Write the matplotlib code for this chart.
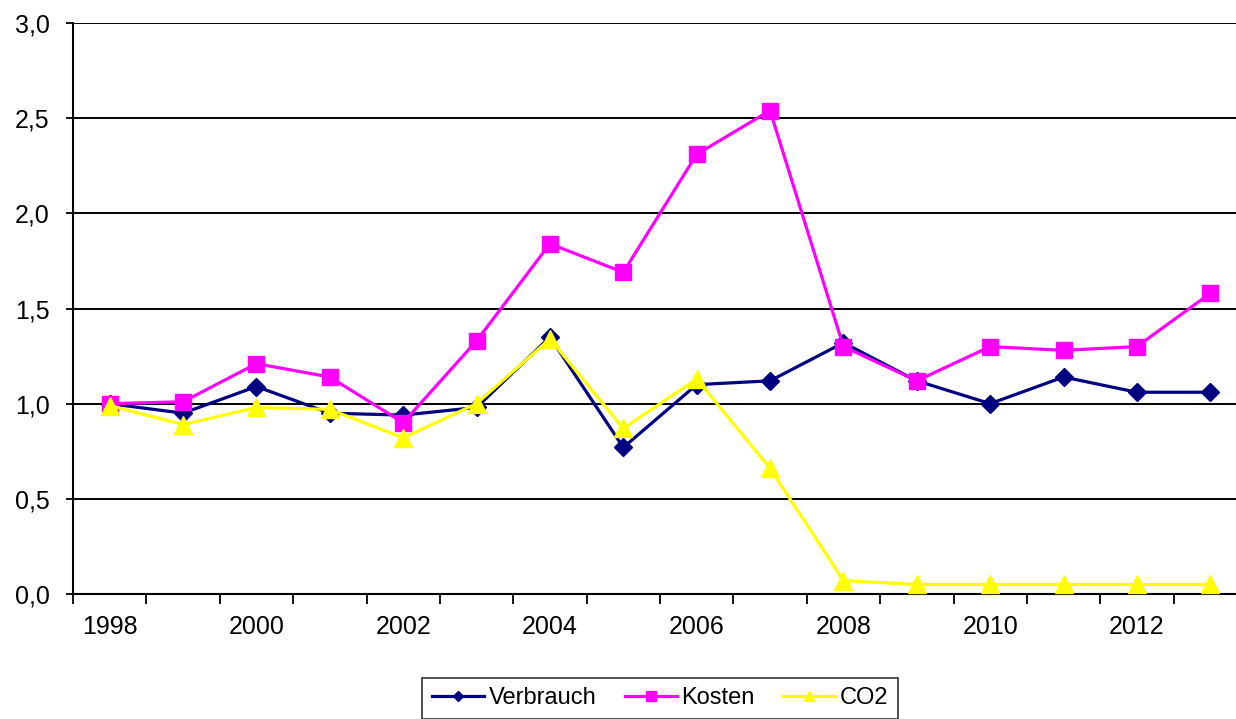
import numpy as np
import matplotlib
matplotlib.use("Agg")
import matplotlib.pyplot as plt
from matplotlib.ticker import FixedLocator, FuncFormatter

plt.rcParams['font.family'] = ['Liberation Sans', 'DejaVu Sans']

# data
years = [1998, 1999, 2000, 2001, 2002, 2003, 2004, 2005,
         2006, 2007, 2008, 2009, 2010, 2011, 2012, 2013]
verbrauch = [1.00, 0.95, 1.09, 0.95, 0.94, 0.98, 1.35, 0.77,
             1.10, 1.12, 1.32, 1.12, 1.00, 1.14, 1.06, 1.06]
kosten = [1.00, 1.01, 1.21, 1.14, 0.90, 1.33, 1.84, 1.69,
          2.31, 2.54, 1.30, 1.12, 1.30, 1.28, 1.30, 1.58]
co2 = [0.99, 0.89, 0.98, 0.97, 0.82, 1.00, 1.34, 0.87,
       1.13, 0.66, 0.07, 0.05, 0.05, 0.05, 0.05, 0.05]
label_years = [1998, 2000, 2002, 2004, 2006, 2008, 2010, 2012]

W, H = 1236, 719
fig = plt.figure(figsize=(W / 100, H / 100), dpi=100)
# the category axis runs a bit past the right edge of the picture
ax = fig.add_axes([73 / W, (H - 594) / H, 1174 / W, (594 - 23) / H])

x = np.arange(len(years))
ax.plot(x, verbrauch, color='#000080', lw=2.3, marker='D', ms=9,
        label='Verbrauch', zorder=3)
ax.plot(x, kosten, color='#FF00FF', lw=2.3, marker='s', ms=12,
        label='Kosten', zorder=4)
ax.plot(x, co2, color='#FFFF00', lw=2.3, marker='^', ms=13,
        label='CO2', zorder=5)

ax.set_xlim(-0.5, len(years) - 0.5)
ax.set_ylim(0, 3.0)

# y axis: horizontal black gridlines, comma decimals
ax.set_yticks(np.arange(0, 3.01, 0.5))
ax.yaxis.set_major_formatter(FuncFormatter(lambda v, p: f"{v:.1f}".replace('.', ',')))
ax.grid(axis='y', color='black', lw=1.4)
ax.set_axisbelow(True)

# x axis: tick marks between categories, labels every second year
ax.xaxis.set_major_locator(FixedLocator(np.arange(-0.5, len(years), 1.0)))
ax.xaxis.set_major_formatter(FuncFormatter(lambda v, p: ''))
ax.xaxis.set_minor_locator(FixedLocator([years.index(y) for y in label_years]))
ax.set_xticklabels([str(y) for y in label_years], minor=True)
ax.tick_params(axis='x', which='major', direction='out', length=7, width=1.3, color='black')
ax.tick_params(axis='x', which='minor', length=0, pad=15, labelsize=18)
ax.tick_params(axis='y', direction='out', length=5, width=1.3, pad=12, labelsize=18)

for s in ['top', 'right']:
    ax.spines[s].set_visible(False)
for s in ['left', 'bottom']:
    ax.spines[s].set_linewidth(1.5)
    ax.spines[s].set_color('black')

leg = fig.legend(loc='upper center', bbox_to_anchor=(660 / W, 1 - 678 / H),
                 ncol=3, fontsize=17, frameon=True, fancybox=False,
                 markerscale=0.6, handlelength=2.2, handletextpad=0.2,
                 columnspacing=1.2, borderpad=0.4, borderaxespad=0)
leg.get_frame().set_edgecolor('black')
leg.get_frame().set_linewidth(1.2)

fig.savefig('out.png', dpi=100)
